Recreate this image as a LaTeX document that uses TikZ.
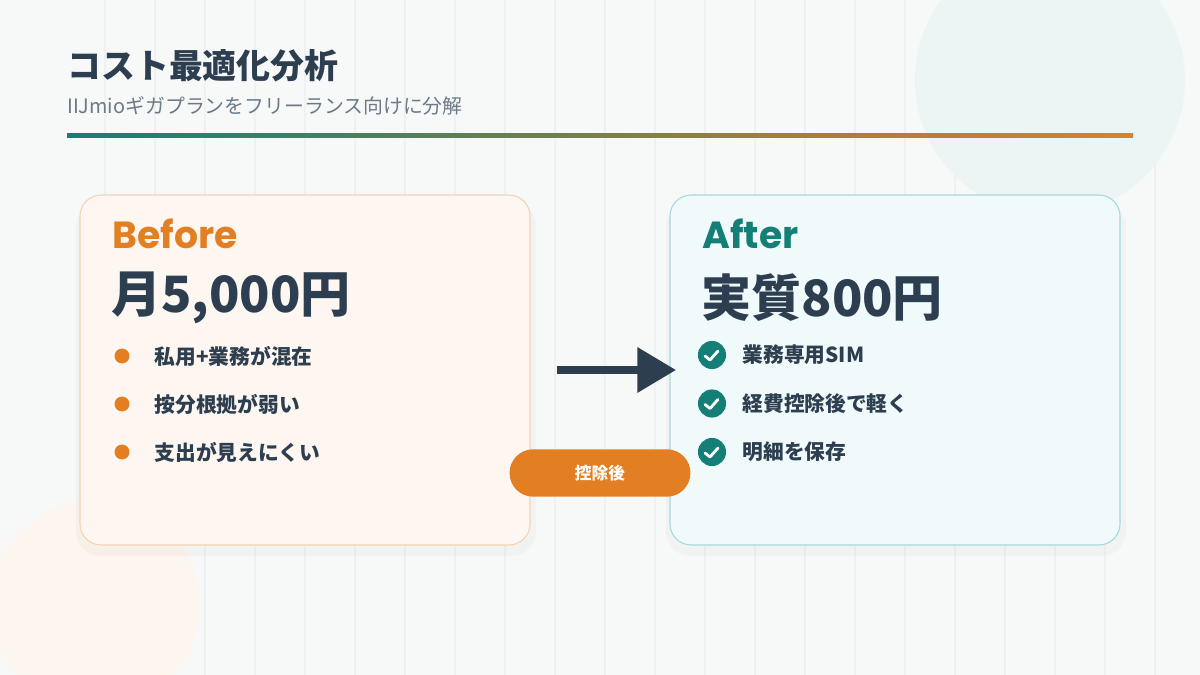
\documentclass[tikz,border=0pt]{standalone}
\usepackage{fontspec}
\setmainfont{Noto Sans CJK JP}[BoldFont={Noto Sans CJK JP Black}]
\newfontfamily\latinbold{Poppins}[UprightFont=* Bold]
\usetikzlibrary{arrows.meta,positioning,calc}
\definecolor{bgcol}{HTML}{F7F9F9}
\definecolor{gridcol}{HTML}{EEF2F2}
\definecolor{darkcol}{HTML}{2C3E50}
\definecolor{graycol}{HTML}{6B7A86}
\definecolor{orangecol}{HTML}{E27F22}
\definecolor{tealcol}{HTML}{147F77}
\definecolor{beforefill}{HTML}{FEF6F1}
\definecolor{beforeline}{HTML}{F4D2B5}
\definecolor{afterfill}{HTML}{F0FAFA}
\definecolor{afterline}{HTML}{A8D7DC}
\tikzset{
  card/.style={rounded corners=12pt, line width=0.6pt},
  heading/.style={anchor=west, inner sep=0pt, font=\latinbold\fontsize{21.5}{21.5}\selectfont},
  price/.style={anchor=west, inner sep=0pt, text=darkcol, font=\bfseries\fontsize{28.5}{28.5}\selectfont},
  item/.style={anchor=west, inner sep=0pt, text=darkcol, font=\bfseries\fontsize{11.8}{11.8}\selectfont},
  dot/.style={circle, fill=orangecol, minimum size=8.5pt, inner sep=0pt},
  check/.style={circle, fill=tealcol, minimum size=16pt, inner sep=0pt},
}
\newcommand{\checkmark}[1]{\draw[white, line width=1.6pt, line cap=round, line join=round]
  ($(#1)+(-7,1)$) -- ($(#1)+(-2,5)$) -- ($(#1)+(6,-4)$);}
\begin{document}
\begin{tikzpicture}[x=0.02cm, y=-0.02cm]
    \useasboundingbox (0,0) rectangle (1200,675);
    % background
    \fill[bgcol] (0,0) rectangle (1200,675);
    \foreach \gx in {105,155,...,1200}
        \draw[gridcol, line width=0.8pt] (\gx,0) -- (\gx,675);
    \fill[tealcol!8] (1050,80) circle (135);
    \fill[orangecol!7] (95,605) circle (105);

    % title
    \node[anchor=west, inner sep=0pt, text=darkcol, font=\bfseries\fontsize{19.3}{19.3}\selectfont] (title) at (67,66) {コスト最適化分析};
    \node[anchor=west, inner sep=0pt, text=graycol, font=\fontsize{11.3}{11.3}\selectfont] (subtitle) at (67,106) {IIJmioギガプランをフリーランス向けに分解};
    \shade[left color=tealcol, right color=orangecol] (67,133.5) rectangle (1133,137.5);

    % cards
    \fill[black, opacity=0.025, rounded corners=14pt] (76,202) rectangle (536,556);
    \fill[black, opacity=0.025, rounded corners=14pt] (666,202) rectangle (1126,556);
    \draw[card, fill=beforefill, draw=beforeline] (80,195) rectangle (530,545);
    \draw[card, fill=afterfill, draw=afterline] (670,195) rectangle (1120,545);

    % Before side
    \node[heading, text=orangecol] (before) at (112,234) {Before};
    \node[price] (beforeprice) at (111,298) {月5,000円};
    \foreach \i/\txt in {0/私用+業務が混在, 1/按分根拠が弱い, 2/支出が見えにくい} {
        \node[dot] (bdot\i) at (122,356+48*\i) {};
        \node[item, right=14pt of bdot\i] (bitem\i) {\txt};
    }

    % After side
    \node[heading, text=tealcol] (after) at (702,234) {After};
    \node[price] (afterprice) at (701,298) {実質800円};
    \foreach \i/\txt in {0/業務専用SIM, 1/経費控除後で軽く, 2/明細を保存} {
        \node[check] (acheck\i) at (712,355+48.5*\i) {};
        \checkmark{acheck\i}
        \node[item, right=9pt of acheck\i] (aitem\i) {\txt};
    }

    % middle arrow
    \coordinate (arrowstart) at (557,370);
    \coordinate (arrowend) at (676,370);
    \draw[darkcol, line width=4pt, -{Triangle[length=22pt, width=25pt]}] (arrowstart) -- (arrowend);
    \node[fill=orangecol, rounded corners=13.5pt, minimum width=103pt, minimum height=27pt,
          text=white, font=\bfseries\fontsize{9.5}{9.5}\selectfont] (pill) at (600,473) {控除後};
\end{tikzpicture}
\end{document}
